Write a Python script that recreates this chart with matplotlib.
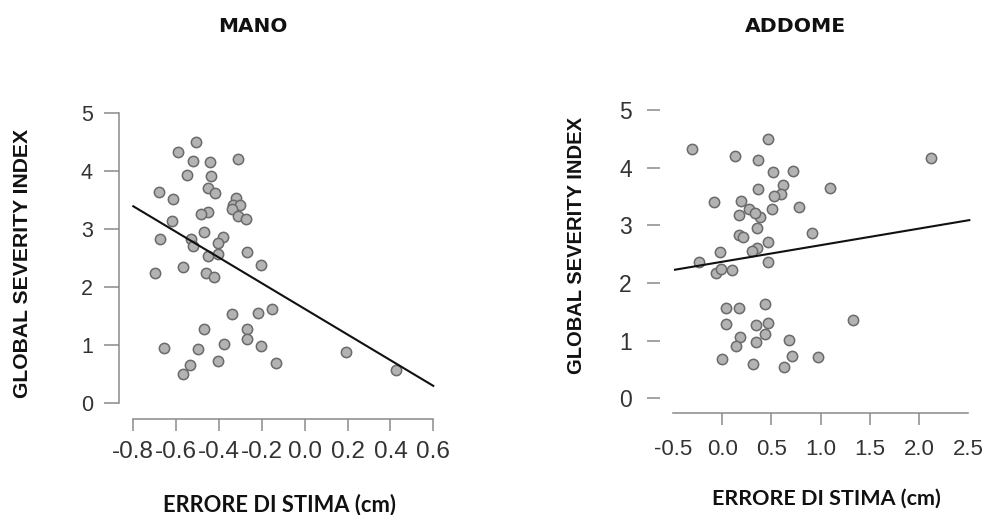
import matplotlib
matplotlib.use("Agg")
import matplotlib.pyplot as plt

# ---------------- data ----------------
mano_x = [-0.508, -0.59, -0.52, -0.442, -0.31, -0.548, -0.439, -0.679, -0.453, -0.419,
          -0.613, -0.321, -0.336, -0.302, -0.341, -0.31, -0.276, -0.45, -0.486, -0.621,
          -0.472, -0.676, -0.531, -0.52, -0.383, -0.403, -0.453, -0.403, -0.271, -0.57,
          -0.206, -0.699, -0.462, -0.424, -0.341, -0.217, -0.154, -0.472, -0.271, -0.268,
          -0.655, -0.5, -0.377, -0.206, -0.403, -0.134, -0.536, -0.567, 0.192, 0.426]
mano_y = [4.50, 4.33, 4.17, 4.16, 4.21, 3.93, 3.91, 3.64, 3.71, 3.62,
          3.51, 3.53, 3.41, 3.41, 3.35, 3.22, 3.17, 3.30, 3.26, 3.14,
          2.94, 2.82, 2.82, 2.71, 2.86, 2.76, 2.54, 2.57, 2.61, 2.35,
          2.38, 2.25, 2.24, 2.17, 1.54, 1.55, 1.63, 1.28, 1.27, 1.10,
          0.96, 0.94, 1.02, 0.99, 0.72, 0.69, 0.66, 0.50, 0.89, 0.57]
mano_fit_x = [-0.8, 0.6]
mano_fit_y = [3.39, 0.30]

addome_x = [-0.31, -0.086, -0.233, -0.018, -0.059, -0.008, 0.102, 0.035, 0.17, 0.035,
            0.176, 0.143, -0.002, 0.126, 0.36, 0.461, 0.52, 0.72, 0.62, 0.36,
            0.193, 0.596, 0.53, 0.51, 0.27, 0.17, 0.384, 0.33, 0.35, 0.17,
            0.216, 0.78, 0.915, 0.47, 0.35, 0.305, 0.461, 1.10, 2.12, 1.33,
            0.43, 0.344, 0.461, 0.438, 0.344, 0.68, 0.706, 0.31, 0.63, 0.975]
addome_y = [4.32, 3.41, 2.37, 2.54, 2.18, 2.24, 2.23, 1.56, 1.56, 1.29,
            1.06, 0.91, 0.68, 4.21, 4.14, 4.50, 3.92, 3.94, 3.70, 3.63,
            3.43, 3.55, 3.50, 3.29, 3.28, 3.18, 3.15, 3.21, 2.96, 2.83,
            2.80, 3.32, 2.86, 2.71, 2.60, 2.56, 2.36, 3.65, 4.16, 1.36,
            1.64, 1.27, 1.30, 1.12, 0.97, 1.01, 0.73, 0.60, 0.54, 0.71]
addome_fit_x = [-0.48, 2.51]
addome_fit_y = [2.23, 3.09]

y_ticks = [0, 1, 2, 3, 4, 5]
mano_xticks = [-0.8, -0.6, -0.4, -0.2, 0.0, 0.2, 0.4, 0.6]
mano_xticklabels = ["-0.8", "-0.6", "-0.4", "-0.2", "0.0", "0.2", "0.4", "0.6"]
addome_xticks = [-0.5, 0.0, 0.5, 1.0, 1.5, 2.0, 2.5]
addome_xticklabels = ["-0.5", "0.0", "0.5", "1.0", "1.5", "2.0", "2.5"]

title_left = "MANO"
title_right = "ADDOME"
xlabel_text = "ERRORE DI STIMA (cm)"
ylabel_text = "GLOBAL SEVERITY INDEX"

# ---------------- figure ----------------
W, H = 988, 515
fig = plt.figure(figsize=(W / 100, H / 100), dpi=100)
fig.patch.set_facecolor("white")

AXC = "#8a8a8a"
FACE = "#b3b3b3"
EDGE = "#6a6a6a"
TICKFONT = "Liberation Sans"
TICKCOL = "#333333"


def px_box(x0, x1, y_top, y_bot):
    return [x0 / W, 1 - y_bot / H, (x1 - x0) / W, (y_bot - y_top) / H]


def style(ax, xlim, ylim, bottom_out, left_out, xt, xtl, xfs, yfs,
          xtl_len, ytl_len, xpad, ypad, show_left_spine, xspan):
    ax.set_xlim(*xlim)
    ax.set_ylim(*ylim)
    for s in ("top", "right"):
        ax.spines[s].set_visible(False)
    ax.spines["bottom"].set_position(("outward", bottom_out))
    ax.spines["left"].set_position(("outward", left_out))
    ax.spines["bottom"].set_bounds(*xspan)
    ax.spines["left"].set_bounds(0, 5)
    for s in ("bottom", "left"):
        ax.spines[s].set_color(AXC)
        ax.spines[s].set_linewidth(1.1)
    ax.spines["left"].set_visible(show_left_spine)
    ax.set_xticks(xt)
    ax.set_xticklabels(xtl)
    ax.set_yticks(y_ticks)
    ax.set_yticklabels([str(v) for v in y_ticks])
    ax.tick_params(axis="x", length=xtl_len, width=1.1, color=AXC, pad=xpad,
                   labelsize=xfs, labelcolor=TICKCOL)
    ax.tick_params(axis="y", length=ytl_len, width=1.1, color=AXC, pad=ypad,
                   labelsize=yfs, labelcolor=TICKCOL)
    for lab in ax.get_xticklabels() + ax.get_yticklabels():
        lab.set_family(TICKFONT)
    ax.patch.set_alpha(0)


# left panel (MANO)
axL = fig.add_axes(px_box(133.3, 433.3, 112.7, 403.3))
axL.scatter(mano_x, mano_y, s=55, facecolor=FACE, edgecolor=EDGE,
            linewidths=1.1, zorder=3, clip_on=False)
axL.plot(mano_fit_x, mano_fit_y, color="#111111", lw=1.5, zorder=4, clip_on=False)
style(axL, (-0.8, 0.6), (0, 5), 11.3, 10.3, mano_xticks, mano_xticklabels,
      17.5, 15.5, 8.6, 10.8, 7.5, 8.0, True, (-0.8, 0.6))

# right panel (ADDOME)
axR = fig.add_axes(px_box(673, 968.3, 110, 398.3))
axR.scatter(addome_x, addome_y, s=55, facecolor=FACE, edgecolor=EDGE,
            linewidths=1.1, zorder=3, clip_on=False)
axR.plot(addome_fit_x, addome_fit_y, color="#111111", lw=1.5, zorder=4, clip_on=False)
style(axR, (-0.5, 2.5), (0, 5), 10.4, 9.4, addome_xticks, addome_xticklabels,
      16.0, 16.5, 8.6, 9.4, 10.5, 10.8, False, (-0.5, 2.5))
xt = axR.xaxis.get_major_ticks()
xt[0].tick1line.set_visible(False)
xt[-1].tick1line.set_visible(False)

# ---------------- text ----------------
t_ml = fig.text(252.7 / W, 1 - 26.5 / H, title_left, ha="center", va="center",
                family="DejaVu Sans", weight="bold", fontsize=15, color="#111111")
t_mr = fig.text(795.5 / W, 1 - 26 / H, title_right, ha="center", va="center",
                family="DejaVu Sans", weight="bold", fontsize=15, color="#111111")
t_xl = fig.text(279 / W, 1 - 505 / H, xlabel_text, ha="center", va="center",
                family="Lato", weight="bold", fontsize=16, color="#111111")
t_xr = fig.text(826 / W, 1 - 499 / H, xlabel_text, ha="center", va="center",
                family="Lato", weight="bold", fontsize=16, color="#111111")
t_yl = fig.text(23 / W, 1 - 263 / H, ylabel_text, ha="center", va="center",
                rotation=90, family="Liberation Sans", weight="bold", fontsize=15,
                color="#111111")
t_yr = fig.text(577 / W, 1 - 246 / H, ylabel_text, ha="center", va="center",
                rotation=90, family="Liberation Sans", weight="bold", fontsize=15,
                color="#111111")

# fit text sizes to measured extents in the reference
fig.canvas.draw()
r = fig.canvas.get_renderer()
for t, target, vertical in [(t_ml, 69, False), (t_mr, 101, False),
                            (t_xl, 232, False), (t_xr, 228, False),
                            (t_yl, 270, True), (t_yr, 257, True)]:
    bb = t.get_window_extent(r)
    cur = bb.height if vertical else bb.width
    t.set_fontsize(t.get_fontsize() * target / cur)

fig.savefig("out.png", dpi=100, facecolor="white")
